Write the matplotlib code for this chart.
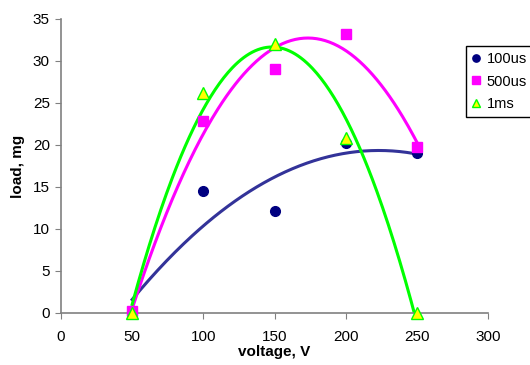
import numpy as np
import matplotlib
matplotlib.use('Agg')
import matplotlib.pyplot as plt

plt.rcParams['font.family'] = ['Liberation Sans', 'DejaVu Sans']

# data
voltage = [50, 100, 150, 200, 250]
load_100us = [0.2, 14.5, 12.2, 20.2, 19.0]
load_500us = [0.2, 22.8, 29.0, 33.2, 19.8]
load_1ms = [0.0, 26.2, 32.0, 20.8, 0.0]

fig = plt.figure(figsize=(5.3, 3.65), dpi=100)
ax = fig.add_axes([61 / 530, 1 - 313 / 365, 427 / 530, 294 / 365])

xs = np.linspace(50, 250, 200)
# polynomial (order 2) trendlines, like the excel ones
for y, col in [(load_100us, '#333399'), (load_500us, '#FF00FF'), (load_1ms, '#00FF00')]:
    c = np.polyfit(voltage, y, 2)
    ax.plot(xs, np.polyval(c, xs), color=col, lw=2.2, zorder=2)

ax.plot(voltage, load_100us, 'o', color='#000080', ms=7, label='100us', zorder=3, clip_on=False)
ax.plot(voltage, load_500us, 's', color='#FF00FF', ms=7, label='500us', zorder=3, clip_on=False)
ax.plot(voltage, load_1ms, '^', mfc='#FFFF00', mec='#00FF00', mew=1, ms=8, label='1ms', zorder=4, clip_on=False)

ax.set_xlim(0, 300)
ax.set_ylim(0, 35)
ax.set_xticks(range(0, 301, 50))
ax.set_yticks(range(0, 36, 5))
for s in ['top', 'right']:
    ax.spines[s].set_visible(False)
for s in ['left', 'bottom']:
    ax.spines[s].set_color('#808080')
    ax.spines[s].set_linewidth(1.2)
ax.tick_params(direction='out', length=4, color='#808080', labelsize=11, pad=4)
ax.tick_params(axis='x', pad=8)

ax.set_xlabel('voltage, V', fontsize=11, fontweight='bold', labelpad=1)
ax.set_ylabel('load, mg', fontsize=11, fontweight='bold', labelpad=6)

leg = fig.legend(loc='upper left', bbox_to_anchor=(466 / 530, 1 - 46 / 365), fontsize=10.5,
                 frameon=True, fancybox=False, edgecolor='black', framealpha=1,
                 markerscale=0.75, handlelength=0.6, handletextpad=0.4, borderpad=0.4,
                 labelspacing=0.6, borderaxespad=0)
leg.get_frame().set_linewidth(1)

fig.savefig('out.png', dpi=100)
